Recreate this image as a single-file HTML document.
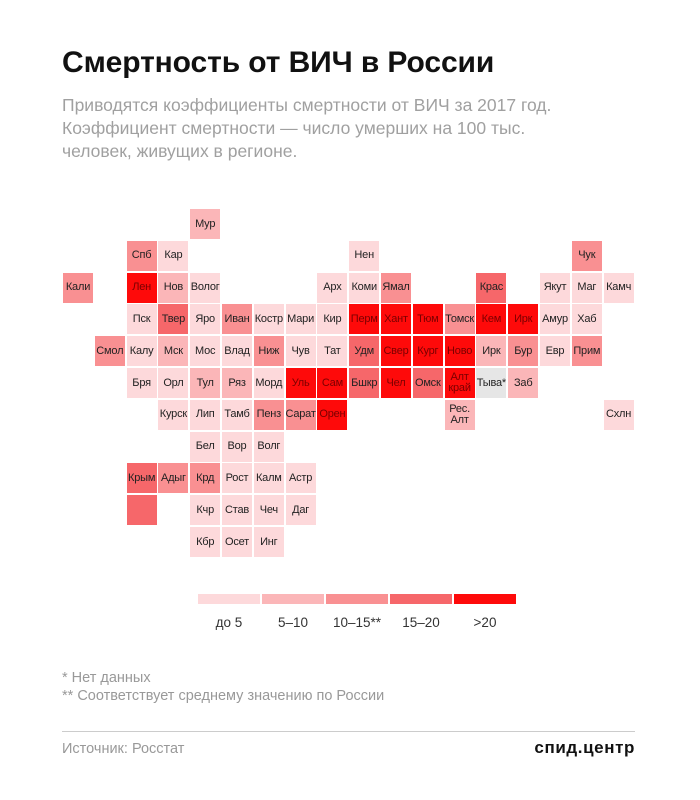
<!DOCTYPE html>
<html><head><meta charset="utf-8"><style>
body{margin:0;background:#fff;width:700px;height:800px;position:relative;overflow:hidden;font-family:"Liberation Sans","DejaVu Sans",sans-serif}
.t{position:absolute;left:62px;top:46px;font-size:30px;font-weight:bold;color:#111;letter-spacing:-0.1px}
.s{position:absolute;left:62px;top:94px;font-size:17.5px;line-height:23px;color:#a0a0a0}
.c{position:absolute;width:30px;height:30px;font-size:11px;color:#222;display:flex;align-items:center;justify-content:center;text-align:center;line-height:11px;letter-spacing:-0.2px;white-space:nowrap}
.c1{background:#fdd9db}.c2{background:#fbb6b8}.c3{background:#f99092}.c4{background:#f6676a}.c5{background:#fe0a0a;color:#7a0000}.g{background:#e6e6e6}
.lb{position:absolute;top:594px;height:10px;width:62px}
.ll{position:absolute;top:615px;font-size:13.5px;color:#333;width:62px;text-align:center}
.f{position:absolute;left:62px;font-size:14.5px;color:#999}
</style></head><body>
<div class="t">Смертность от ВИЧ в России</div>
<div class="s">Приводятся коэффициенты смертности от ВИЧ за 2017 год.<br>Коэффициент смертности — число умерших на 100 тыс.<br>человек, живущих в регионе.</div>
<div id="m"></div>
<script>
var d=[
[0,4,"Мур",2],[1,2,"Спб",3],[1,3,"Кар",1],[1,9,"Нен",1],[1,16,"Чук",3],
[2,0,"Кали",3],[2,2,"Лен",5],[2,3,"Нов",2],[2,4,"Волог",1],[2,8,"Арх",1],[2,9,"Коми",1],[2,10,"Ямал",3],[2,13,"Крас",4],[2,15,"Якут",1],[2,16,"Маг",1],[2,17,"Камч",1],
[3,2,"Пск",1],[3,3,"Твер",4],[3,4,"Яро",1],[3,5,"Иван",3],[3,6,"Костр",1],[3,7,"Мари",1],[3,8,"Кир",1],[3,9,"Перм",5],[3,10,"Хант",5],[3,11,"Тюм",5],[3,12,"Томск",3],[3,13,"Кем",5],[3,14,"Ирк",5],[3,15,"Амур",1],[3,16,"Хаб",1],
[4,1,"Смол",3],[4,2,"Калу",1],[4,3,"Мск",2],[4,4,"Мос",1],[4,5,"Влад",1],[4,6,"Ниж",3],[4,7,"Чув",1],[4,8,"Тат",1],[4,9,"Удм",4],[4,10,"Свер",5],[4,11,"Кург",5],[4,12,"Ново",5],[4,13,"Ирк",2],[4,14,"Бур",3],[4,15,"Евр",1],[4,16,"Прим",3],
[5,2,"Бря",1],[5,3,"Орл",1],[5,4,"Тул",2],[5,5,"Ряз",2],[5,6,"Морд",1],[5,7,"Уль",5],[5,8,"Сам",5],[5,9,"Бшкр",4],[5,10,"Чел",5],[5,11,"Омск",4],[5,12,"Алт<br>край",5],[5,13,"Тыва*",0],[5,14,"Заб",2],
[6,3,"Курск",1],[6,4,"Лип",1],[6,5,"Тамб",1],[6,6,"Пенз",3],[6,7,"Сарат",3],[6,8,"Орен",5],[6,12,"Рес.<br>Алт",2],[6,17,"Схлн",1],
[7,4,"Бел",1],[7,5,"Вор",1],[7,6,"Волг",1],
[8,2,"Крым",4],[8,3,"Адыг",3],[8,4,"Крд",3],[8,5,"Рост",1],[8,6,"Калм",1],[8,7,"Астр",1],
[9,2,"",4],[9,4,"Кчр",1],[9,5,"Став",1],[9,6,"Чеч",1],[9,7,"Даг",1],
[10,4,"Кбр",1],[10,5,"Осет",1],[10,6,"Инг",1]];
var h="";d.forEach(function(a){h+='<div class="c '+(a[3]?'c'+a[3]:'g')+'" style="left:'+(63+a[1]*31.8).toFixed(1)+'px;top:'+(209+a[0]*31.8).toFixed(1)+'px">'+a[2]+'</div>';});
document.getElementById("m").innerHTML=h;
</script>
<div class="lb c1" style="left:198px;position:absolute"></div>
<div class="lb c2" style="left:262px;position:absolute"></div>
<div class="lb c3" style="left:326px;position:absolute"></div>
<div class="lb c4" style="left:390px;position:absolute"></div>
<div class="lb" style="left:454px;background:#fe0a0a"></div>
<div class="ll" style="left:198px">до 5</div>
<div class="ll" style="left:262px">5–10</div>
<div class="ll" style="left:326px">10–15**</div>
<div class="ll" style="left:390px">15–20</div>
<div class="ll" style="left:454px">&gt;20</div>
<div class="f" style="top:670px">* Нет данных</div>
<div class="f" style="top:688px">** Соответствует среднему значению по России</div>
<div style="position:absolute;left:62px;top:731px;width:573px;height:1px;background:#ccc"></div>
<div class="f" style="top:741px">Источник: Росстат</div>
<div style="position:absolute;right:65px;top:738px;font-size:17px;font-weight:bold;color:#111;letter-spacing:0.6px">спид.центр</div>
</body></html>
